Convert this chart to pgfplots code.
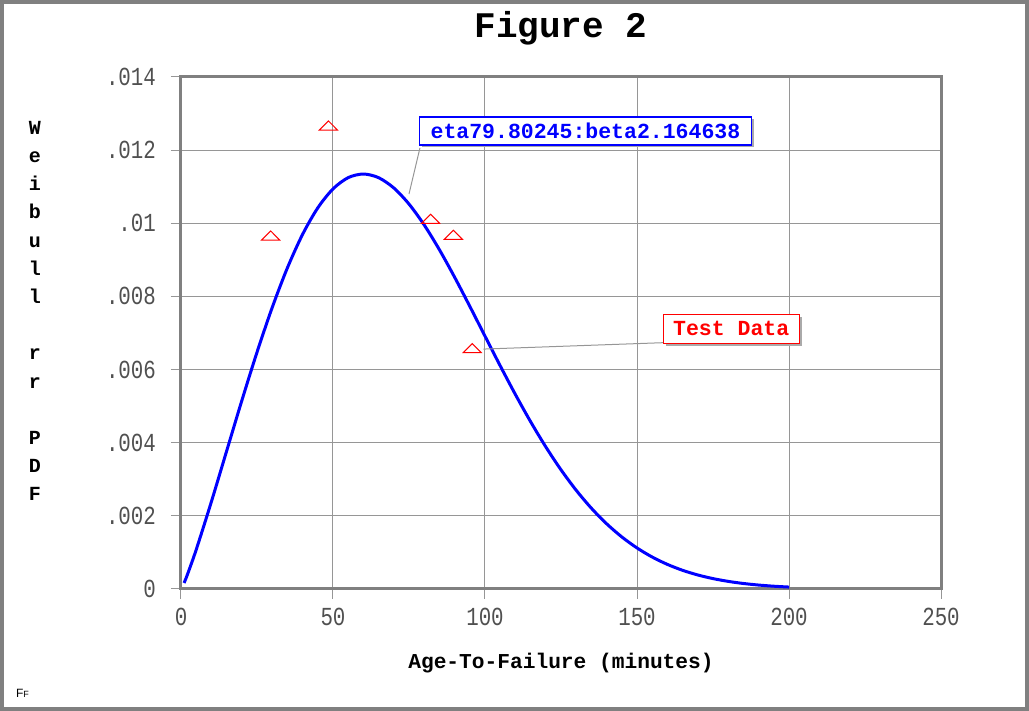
\documentclass[border=0pt]{standalone}
\usepackage{fontspec}
\usepackage{pgfplots}
\pgfplotsset{compat=1.18}
\usetikzlibrary{calc}
\setmainfont{Liberation Mono}
\newfontfamily\cour{Liberation Mono}
\newfontfamily\tickfont[FakeStretch=0.8]{Liberation Mono}
\newfontfamily\smallsans{Liberation Sans}
\definecolor{framec}{RGB}{128,128,128}
\definecolor{gridc}{RGB}{150,150,150}
\definecolor{tickc}{RGB}{80,80,80}
\definecolor{curvec}{RGB}{0,0,255}
\definecolor{markc}{RGB}{255,0,0}
\definecolor{shadowc}{RGB}{170,170,170}

% Weibull pdf, eta 79.80245, beta 2.164638
\pgfplotstableread{
t pdf
1 0.0001652
2 0.0003702
5 0.0010744
10 0.0023878
15 0.0037694
20 0.0051489
25 0.0064728
30 0.0076962
35 0.0087811
40 0.0096972
45 0.0104217
50 0.010940
55 0.011248
60 0.011347
65 0.011247
70 0.010966
75 0.010526
80 0.009954
85 0.0092774
90 0.0085264
95 0.0077296
100 0.0069142
105 0.0061037
110 0.0053182
115 0.0045749
120 0.0038858
125 0.0032591
130 0.0026995
135 0.0022083
140 0.0017843
145 0.0014240
150 0.0011225
155 0.00087409
160 0.00067234
165 0.00051088
170 0.00038348
175 0.00028434
180 0.00020828
185 0.00015071
190 0.00010774
195 0.000076076
200 0.000053067
}\pdftable

% test data
\pgfplotstableread{
t y
29.5 0.009625
48.5 0.012633
82.1 0.010082
89.6 0.009644
95.8 0.006546
}\testdata

\begin{document}
\begin{tikzpicture}
\begin{axis}[
  name=ax, scale only axis, width=380pt, height=256pt,
  xmin=0, xmax=250, ymin=0, ymax=0.014,
  xtick={0,50,100,150,200,250},
  xticklabels={0,50,100,150,200,250},
  ytick={0,0.002,0.004,0.006,0.008,0.01,0.012,0.014},
  yticklabels={0,.002,.004,.006,.008,.01,.012,.014},
  scaled y ticks=false,
  grid=major, major grid style={gridc, line width=0.5pt},
  axis line style={framec, line width=1.5pt},
  tick align=outside, major tick length=5pt,
  tick style={gridc, line width=0.5pt},
  xtick pos=left, ytick pos=left,
  tick label style={font=\tickfont\fontsize{13}{13}\selectfont, text=tickc},
  yticklabel style={xshift=-4pt},
  xticklabel style={yshift=-1pt},
  clip=false,
]
\addplot[curvec, line width=1.5pt, smooth] table[x=t, y=pdf] {\pdftable};
\addplot[only marks, mark=triangle, mark size=5.2pt, markc,
  mark options={yscale=0.58, line width=0.5pt}] table[x=t, y=y] {\testdata};

% annotations
\draw[gridc, line width=0.5pt] (axis cs:78.6,0.012059) -- (axis cs:75.0,0.010801);
\node[fill=shadowc, minimum width=166pt, minimum height=14pt, inner sep=0pt]
  at ($(axis cs:133.05,0.012523)+(1.2pt,-1.2pt)$) {};
\node[draw=curvec, line width=0.6pt, fill=white, text=curvec, minimum width=166pt,
  minimum height=14pt, inner sep=0pt, font=\cour\bfseries\fontsize{10.75}{10.75}\selectfont]
  at (axis cs:133.05,0.012523) {eta79.80245:beta2.164638};

\draw[gridc, line width=0.5pt] (axis cs:158.6,0.006735) -- (axis cs:99.5,0.00656);
\node[fill=shadowc, minimum width=68pt, minimum height=14.5pt, inner sep=0pt]
  at ($(axis cs:181.0,0.007115)+(1.2pt,-1.2pt)$) {};
\node[draw=markc, line width=0.6pt, fill=white, text=markc, minimum width=68pt,
  minimum height=14.5pt, inner sep=0pt, font=\cour\bfseries\fontsize{10.75}{10.75}\selectfont]
  at (axis cs:181.0,0.007115) {Test Data};
\end{axis}

% title and axis labels
\node[font=\cour\bfseries\fontsize{18}{18}\selectfont] at ($(ax.north)+(0,24.5pt)$) {Figure 2};
\node[font=\cour\bfseries\fontsize{10.6}{10.6}\selectfont] at ($(ax.south)+(0,-37pt)$)
  {Age-To-Failure (minutes)};
\node[font=\cour\bfseries\fontsize{10}{14.1}\selectfont, align=center]
  at ($(ax.north west)+(-73pt,-117pt)$)
  {W\\e\\i\\b\\u\\l\\l\\\mbox{}\\r\\r\\\mbox{}\\P\\D\\F};
\node[font=\smallsans\fontsize{6}{6}\selectfont, anchor=west]
  at ($(ax.south west)+(-86pt,-52pt)$) {F{\fontsize{4.5}{4.5}\selectfont F}};

% outer frame
\draw[framec, line width=2pt] ($(ax.south west)+(-89.5pt,-60pt)$) rectangle ($(ax.north east)+(43pt,37.5pt)$);
\end{tikzpicture}
\end{document}
